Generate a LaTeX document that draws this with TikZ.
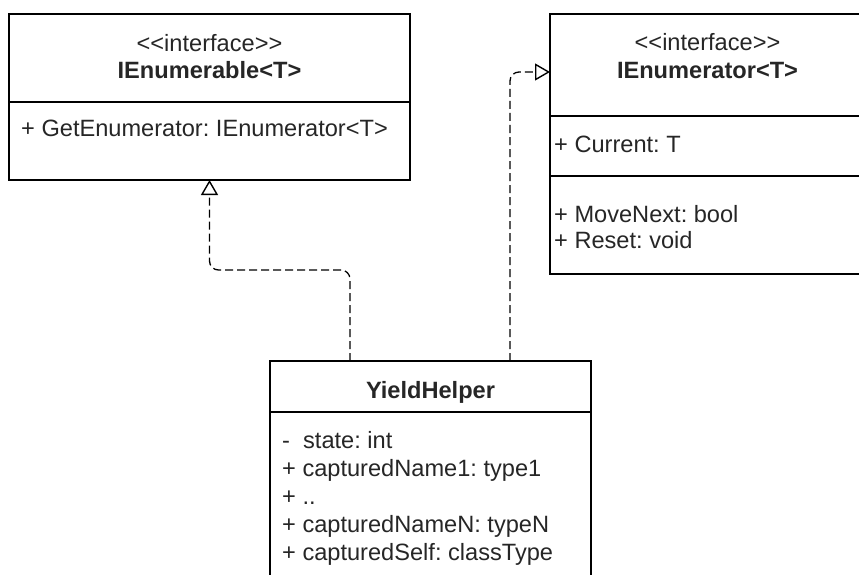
\documentclass[tikz,border=0pt]{standalone}
\usepackage{fontspec}
\setmainfont{Liberation Sans}
\usetikzlibrary{positioning,arrows.meta}
\frenchspacing

\tikzset{
  compart/.style={draw, line width=1.5pt, inner sep=0pt, outer sep=0pt},
  member/.style={anchor=base west, inner sep=0pt, text=black!85},
  caption/.style={anchor=base, inner sep=0pt, text=black!85},
  realizes/.style={line width=1.3pt, dash pattern=on 8pt off 4pt, rounded corners=9pt,
    -{Triangle[open, length=15pt, width=17pt, line width=1.4pt]}}
}

\begin{document}
\begin{tikzpicture}[x=1pt, y=-1pt, font=\fontsize{23.6pt}{28pt}\selectfont]
	\clip (0,0) rectangle (859,575);

	% IEnumerable<T>
	\node [compart, minimum width=401pt, minimum height=88pt, anchor=north west] (enbhead) at (9,14) {};
	\node [compart, minimum width=401pt, minimum height=78pt, below=0pt of enbhead] (enbops) {};
	\node [caption] (enbstereo) at ([yshift=-38pt]enbhead.north) {<{}<interface>{}>};
	\node [caption] (enbname) at ([yshift=-65pt]enbhead.north) {\textbf{IEnumerable<T>}};
	\node [member] (enbget) at ([shift={(12,35)}]enbops.north west) {+ GetEnumerator: IEnumerator<T>};

	% IEnumerator<T>
	\node [compart, minimum width=315pt, minimum height=102pt, anchor=north west] (enrhead) at (550,14) {};
	\node [compart, minimum width=315pt, minimum height=60pt, below=0pt of enrhead] (enrattr) {};
	\node [compart, minimum width=315pt, minimum height=98pt, below=0pt of enrattr] (enrops) {};
	\node [caption] (enrstereo) at ([yshift=-37pt]enrhead.north) {<{}<interface>{}>};
	\node [caption] (enrname) at ([yshift=-65pt]enrhead.north) {\textbf{IEnumerator<T>}};
	\node [member] (enrcur) at ([shift={(4,36)}]enrattr.north west) {+ Current: T};
	\node [member] (enrnext) at ([shift={(4,46)}]enrops.north west) {+ MoveNext: bool};
	\node [member] (enrreset) at ([shift={(4,72)}]enrops.north west) {+ Reset: void};

	% YieldHelper
	\node [compart, minimum width=321pt, minimum height=51pt, anchor=north west] (yhhead) at (270,361) {};
	\node [compart, minimum width=321pt, minimum height=240pt, below=0pt of yhhead] (yhattr) {};
	\node [caption] (yhname) at ([yshift=-37pt]yhhead.north) {\textbf{YieldHelper}};
	\foreach \txt [count=\i from 0] in {-~~state: int, + capturedName1: type1, + .., + capturedNameN: typeN, + capturedSelf: classType}
		\node [member] (yhm\i) at ([shift={(12,36+28*\i)}]yhattr.north west) {\txt};

	% realizations
	\draw [realizes] ([xshift=80pt]yhhead.north west) |- ([yshift=-90pt]enbops.south) -- (enbops.south);
	\draw [realizes] ([xshift=240pt]yhhead.north west) |- ([yshift=-58pt]enrhead.north west);
\end{tikzpicture}
\end{document}
